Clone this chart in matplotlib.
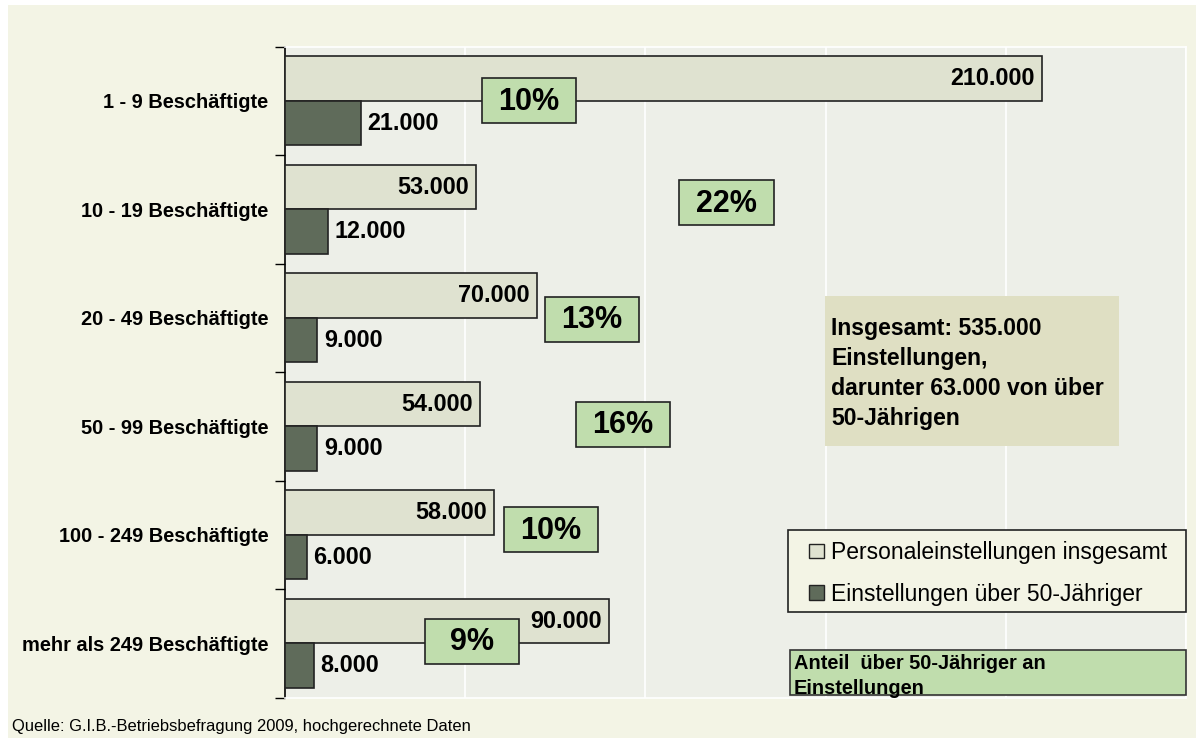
import matplotlib
matplotlib.use("Agg")
import matplotlib.pyplot as plt
from matplotlib.patches import Rectangle
import numpy as np

plt.rcParams['font.family'] = ['Liberation Sans', 'DejaVu Sans']

# ---------------- data ----------------
categories = ["1 - 9 Beschäftigte", "10 - 19 Beschäftigte", "20 - 49 Beschäftigte",
              "50 - 99 Beschäftigte", "100 - 249 Beschäftigte", "mehr als 249 Beschäftigte"]
total_hires = [210000, 53000, 70000, 54000, 58000, 90000]
hires_over50 = [21000, 12000, 9000, 9000, 6000, 8000]
share_labels = ["10%", "22%", "13%", "16%", "10%", "9%"]
series_names = ["Personaleinstellungen insgesamt", "Einstellungen über 50-Jähriger"]
summary_text = "Insgesamt: 535.000\nEinstellungen,\ndarunter 63.000 von über\n50-Jährigen"
share_title = "Anteil  über 50-Jähriger an\nEinstellungen"
source_text = "Quelle: G.I.B.-Betriebsbefragung 2009, hochgerechnete Daten"

# ---------------- style ----------------
W, H = 1196, 738
cream = "#F3F4E5"
plot_bg = "#EDEFE8"
light = "#DFE2D0"
dark = "#5F6B5A"
green = "#C0DDAD"
summary_bg = "#DFDFC3"
edge = "#222222"

def fmt(v):
    return f"{v:,}".replace(",", ".")

fig = plt.figure(figsize=(W / 100, H / 100), dpi=100, facecolor="white")
fig.patches.append(Rectangle((8 / W, 0), 1 - 8 / W, 1 - 5 / H, transform=fig.transFigure,
                             facecolor=cream, edgecolor="none", zorder=-10))

left, right, top, bottom = 285, 1186, 46.7, 697.7
ax = fig.add_axes([left / W, 1 - bottom / H, (right - left) / W, (bottom - top) / H])
ax.set_facecolor(plot_bg)

y = np.arange(len(categories))
h = 0.41
ax.barh(y - h / 2, total_hires, height=h, color=light, edgecolor=edge, linewidth=1.2, zorder=3)
ax.barh(y + h / 2, hires_over50, height=h, color=dark, edgecolor=edge, linewidth=1.2, zorder=3)

for yi, v in zip(y, total_hires):
    ax.text(v - 2000, yi - h / 2, fmt(v), ha="right", va="center", fontsize=16.8,
            fontweight="bold", zorder=5)
for yi, v in zip(y, hires_over50):
    ax.text(v + 1800, yi + h / 2, fmt(v), ha="left", va="center", fontsize=16.8,
            fontweight="bold", zorder=5)

ax.set_xlim(0, 250000)
ax.set_ylim(len(categories) - 0.5, -0.5)
ax.set_xticks(np.arange(0, 250001, 50000))
ax.tick_params(axis="x", length=0, labelbottom=False)
ax.grid(axis="x", color="white", linewidth=1.2, zorder=0)
ax.set_axisbelow(True)

ax.set_yticks(np.arange(-0.5, len(categories)), minor=False)
ax.set_yticklabels([])
ax.tick_params(axis="y", which="major", length=7, width=1, direction="out", color="black")
ax.set_yticks(y, minor=True)
ax.set_yticklabels(categories, minor=True, fontsize=14.4, fontweight="bold")
ax.tick_params(axis="y", which="minor", length=0, pad=12)

for s in ["top", "right", "bottom"]:
    ax.spines[s].set_color("white")
    ax.spines[s].set_linewidth(1.2)
ax.spines["left"].set_color("black")
ax.spines["left"].set_linewidth(1.2)

# percent boxes (centre x in value units, y in category units)
box_x = [67700, 122600, 85200, 93800, 73800, 51900]
box_y = [0.0, 0.94, 2.01, 2.98, 3.95, 4.98]
bw, bh = 26300, 0.415
for bx, by, lab in zip(box_x, box_y, share_labels):
    ax.add_patch(Rectangle((bx - bw / 2, by - bh / 2), bw, bh, facecolor=green,
                           edgecolor=edge, linewidth=1.2, zorder=6))
    ax.text(bx, by + 0.01, lab, ha="center", va="center", fontsize=22, fontweight="bold",
            zorder=7)

# summary box
ax.add_patch(Rectangle((149800, 1.80), 231400 - 149800, 3.18 - 1.80, facecolor=summary_bg,
                       edgecolor="none", zorder=4))
ax.text(151500, 2.51, summary_text, ha="left", va="center", fontsize=16.6, fontweight="bold",
        linespacing=1.38, zorder=5)

# share legend box (clipped text)
rect = Rectangle((140100, 5.06), 250000 - 140100, 5.475 - 5.06, facecolor=green,
                 edgecolor="#333333", linewidth=1.2, zorder=6, clip_on=False)
ax.add_patch(rect)
t = ax.text(141200, 5.10, share_title, ha="left", va="top", fontsize=14.4, fontweight="bold",
            linespacing=1.4, zorder=7)
t.set_clip_path(rect)

# legend
fig.patches.append(Rectangle((787.5 / W, 1 - 612 / H), (1186 - 787.5) / W, (612 - 530) / H,
                             transform=fig.transFigure, facecolor=cream, edgecolor=edge,
                             linewidth=1.2, zorder=8))
handles = [Rectangle((0, 0), 1, 1, facecolor=light, edgecolor=edge, linewidth=1),
           Rectangle((0, 0), 1, 1, facecolor=dark, edgecolor=edge, linewidth=1)]
leg = fig.legend(handles, series_names, loc="upper left",
                 bbox_to_anchor=(809 / W, 1 - 541 / H), frameon=False, fontsize=16.5,
                 handlelength=0.65, handleheight=0.62, handletextpad=0.3,
                 labelspacing=0.82, borderpad=0, borderaxespad=0)
leg.set_zorder(9)

fig.text(12 / W, 1 - 726 / H, source_text, ha="left", va="center", fontsize=11.9)

fig.savefig("out.png", dpi=100, facecolor=fig.get_facecolor())
